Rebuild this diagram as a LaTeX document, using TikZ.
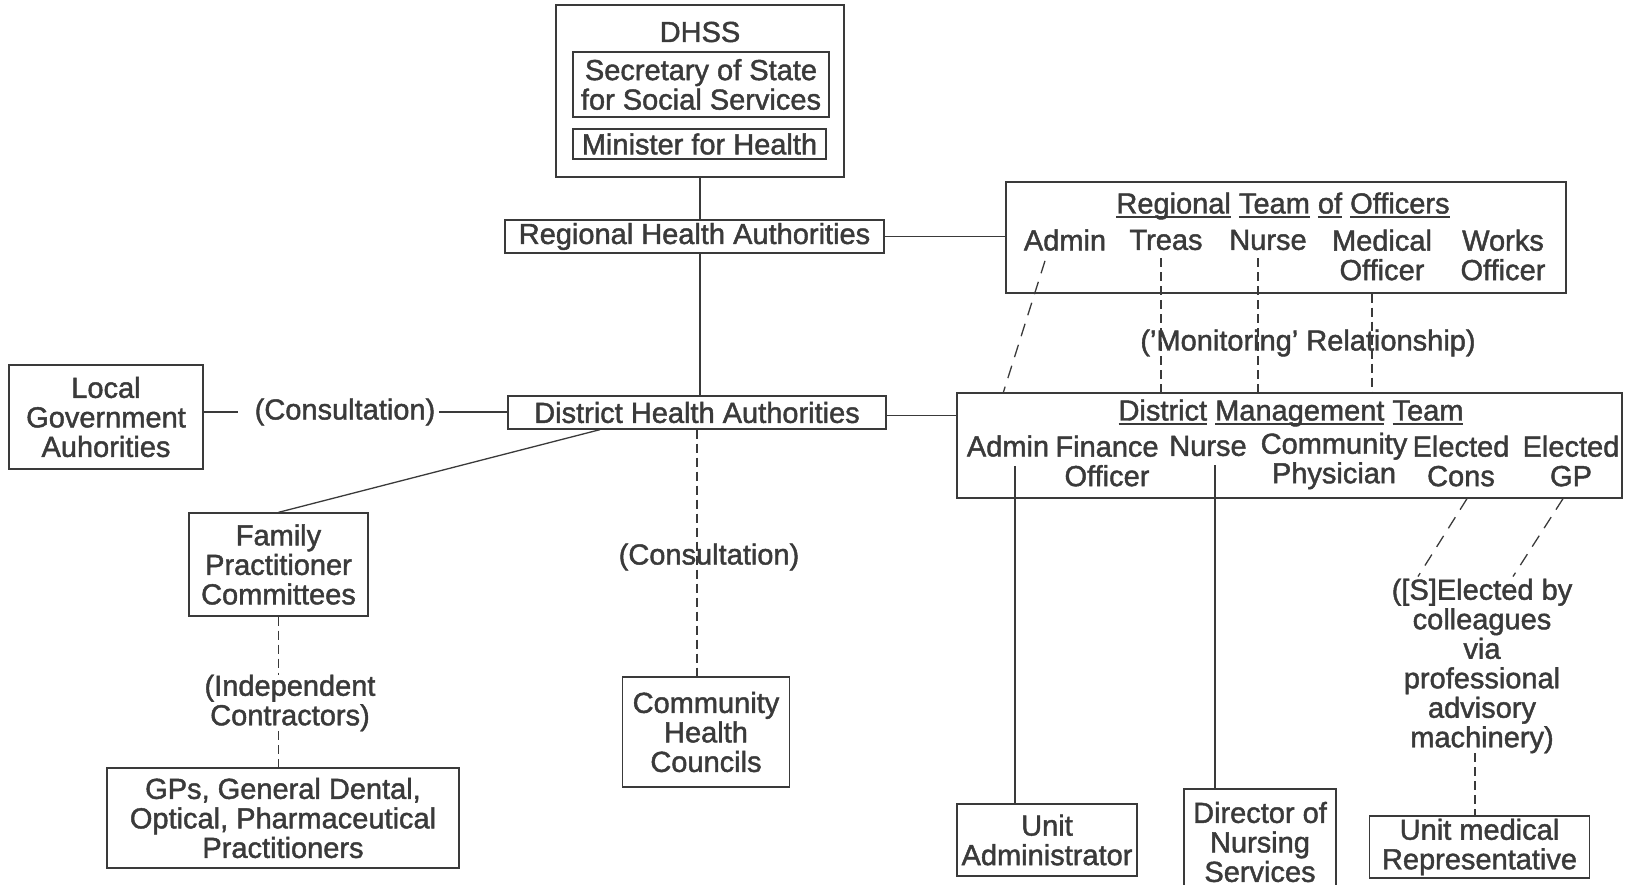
\documentclass[tikz,border=0pt]{standalone}
\usepackage{fontspec}
\setmainfont{Liberation Sans}[FakeBold=1.5]
\usepackage{xcolor}
\definecolor{ink}{HTML}{3A3A3A}
\newcommand{\uword}[1]{\setbox0\hbox{#1}\rlap{\rule[-4.5pt]{\wd0}{1.8pt}}\box0\relax}

\begin{document}
\begin{tikzpicture}[
    x=1pt, y=-1pt,
    every node/.style={align=center, inner sep=0pt, text=ink,
      font=\fontsize{29}{29.5}\selectfont},
    box/.style={draw=ink, line width=1.3pt},
    link/.style={draw=ink, line width=1.3pt},
    dashlink/.style={link, dash pattern=on 9pt off 5pt},
    slantlink/.style={link, dash pattern=on 13pt off 9pt},
  ]
  \useasboundingbox (0,0) rectangle (1631,885);

  \node[box, minimum width=288pt, minimum height=172pt] (dhss) at (700,91) {};
  \node (dhsstitle) at (700,32) {DHSS};
  \node[box, minimum width=256pt, minimum height=65pt] (sos) at (701,84.5) {Secretary of State\\for Social Services};
  \node[box, minimum width=253pt, minimum height=30pt] (minister) at (699.5,144) {Minister for Health};

  \node[box, minimum width=379pt, minimum height=33pt] (rha) at (694.5,236.5) {Regional Health Authorities};
  \node[box, minimum width=378pt, minimum height=33pt] (dha) at (697,412.5) {District Health Authorities};

  \node[box, minimum width=560pt, minimum height=111pt] (rto) at (1286,237.5) {};
  \node (rtotitle) at (1283,206) {\uword{Regional} \uword{Team} \uword{of} \uword{Officers}};
  \node (rtoadmin) at (1065,240) {Admin};
  \node (rtotreas) at (1166,240) {Treas};
  \node (rtonurse) at (1268,240) {Nurse};
  \node (rtomed) at (1382,255) {Medical\\Officer};
  \node (rtoworks) at (1503,255) {Works\\Officer};
  \node (monitor) at (1308,343) {('Monitoring' Relationship)};

  \node[box, minimum width=665pt, minimum height=105pt] (dmt) at (1289.5,445.5) {};
  \node (dmttitle) at (1291,413) {\uword{District} \uword{Management} \uword{Team}};
  \node (dmtadmin) at (1008,446) {Admin};
  \node (dmtfin) at (1107,461) {Finance\\Officer};
  \node (dmtnurse) at (1208,446) {Nurse};
  \node (dmtcomm) at (1334,461) {Community\\Physician};
  \node (dmtcons) at (1461,461) {Elected\\Cons};
  \node (dmtgp) at (1571,461) {Elected\\GP};

  \node[box, minimum width=194pt, minimum height=104pt] (lga) at (106,417) {Local\\Government\\Auhorities};
  \node (conslga) at (345,412) {(Consultation)};
  \node[box, minimum width=179pt, minimum height=103pt] (fpc) at (278.5,564.5) {Family\\Practitioner\\Committees};
  \node (indep) at (290,703) {(Independent\\Contractors)};
  \node[box, minimum width=352pt, minimum height=100pt] (gps) at (283,818) {GPs, General Dental,\\Optical, Pharmaceutical\\Practitioners};
  \node (conschc) at (709,557) {(Consultation)};
  \node[box, minimum width=167pt, minimum height=110pt] (chc) at (706,732) {Community\\Health\\Councils};

  \node[box, minimum width=180pt, minimum height=72pt] (ua) at (1047,840) {Unit\\Administrator};
  \node[box, minimum width=152pt, minimum height=106pt] (dns) at (1260,842) {Director of\\Nursing\\Services};
  \node (elect) at (1482,666) {([S]Elected by\\colleagues\\via\\professional\\advisory\\machinery)};
  \node[box, minimum width=220pt, minimum height=62pt] (umr) at (1479.5,847) {Unit medical\\Representative};

  \draw[link] (dhss.south) -- (dhss.south |- rha.north);
  \draw[link] (rha.south -| dhss.south) -- (dha.north -| dhss.south);
  \draw[link] (rha.east) -- (rha.east -| rto.west);
  \draw[link] ([yshift=-3pt]dha.east) -- ([yshift=-3pt]dha.east -| dmt.west);
  \draw[link] (conslga.west -| lga.east) -- ([xshift=-17pt]conslga.west);
  \draw[link] ([xshift=4pt]conslga.east) -- (conslga.east -| dha.west);
  \draw[link] ([xshift=-97pt]dha.south) -- (fpc.north);
  \draw[dashlink] (fpc.south) -- (fpc.south |- indep.north);
  \draw[dashlink] (fpc.south |- indep.south) -- (fpc.south |- gps.north);
  \draw[dashlink] (dha.south) -- (dha.south |- chc.north);

  \draw[slantlink] ([xshift=-20pt,yshift=-10pt]rtoadmin.south) -- ([xshift=47pt]dmt.north west);
  \draw[dashlink] ([xshift=-5pt,yshift=-8pt]rtotreas.south) -- ([xshift=-5pt]rtotreas.south |- dmt.north);
  \draw[dashlink] ([xshift=-10pt,yshift=-8pt]rtonurse.south) -- ([xshift=-10pt]rtonurse.south |- dmt.north);
  \draw[dashlink] ([xshift=-10pt]rtomed.south |- rto.south) -- ([xshift=-10pt]rtomed.south |- dmt.north);

  \draw[link] ([xshift=7pt,yshift=-9pt]dmtadmin.south) -- ([xshift=7pt]dmtadmin.south |- ua.north);
  \draw[link] ([xshift=7pt,yshift=-9pt]dmtnurse.south) -- ([xshift=7pt]dmtnurse.south |- dns.north);
  \draw[slantlink] ([xshift=6pt]dmtcons.south |- dmt.south) -- ([xshift=-64pt,yshift=2pt]elect.north);
  \draw[slantlink] ([xshift=-8pt]dmtgp.south |- dmt.south) -- ([xshift=31pt,yshift=2pt]elect.north);
  \draw[dashlink] ([xshift=-7pt]elect.south) -- ([xshift=-7pt]elect.south |- umr.north);
\end{tikzpicture}
\end{document}
